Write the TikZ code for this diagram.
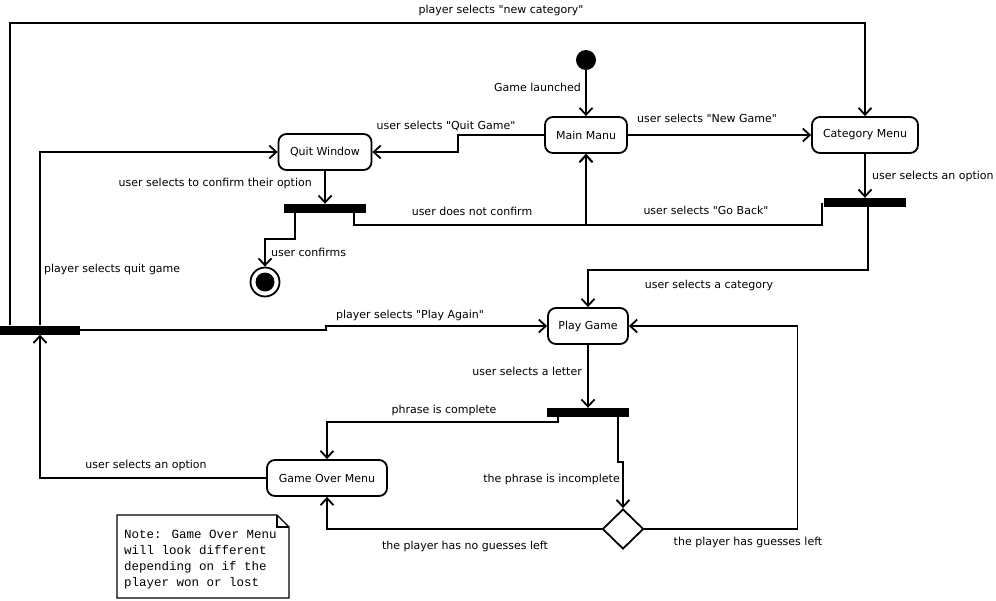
\documentclass[tikz,border=0pt]{standalone}
\usepackage{fontspec}
\newfontfamily\lblfam{DejaVu Sans}
\newfontfamily\notefam{Liberation Mono}
\usetikzlibrary{arrows.meta,shapes.geometric,calc}
\begin{document}
\begin{tikzpicture}[x=1pt,y=-1pt,
  every node/.style={font=\lblfam\fontsize{11}{13}\selectfont},
  lbl/.style={inner sep=0pt},
  state/.style={draw, rounded corners=8pt, line width=1.8pt, minimum height=36, inner sep=0pt, align=center},
  bar/.style={fill=black, minimum width=82, minimum height=9, inner sep=0pt},
  arr/.style={line width=1.8pt, -{Straight Barb[length=7pt,width=13pt]}},
  ln/.style={line width=1.8pt}]
\useasboundingbox (0,0) rectangle (996,600);
\fill[white] (0,0) rectangle (996,600);
% nodes
\node[circle, fill, minimum size=20, inner sep=0pt] (init) at (586,60) {};
\node[state, minimum width=82] (main) at (586,135) {Main Manu};
\node[state, minimum width=93] (quit) at (325,152) {Quit Window};
\node[state, minimum width=106] (cat) at (865,135) {Category Menu};
\node[state, minimum width=80] (play) at (588,326) {Play Game};
\node[state, minimum width=120] (gover) at (327,478) {Game Over Menu};
\node[bar] (qbar) at (325,208.5) {};
\node[bar] (cbar) at (865,202.5) {};
\node[bar] (pbar) at (588,412.5) {};
\node[bar, minimum width=80] (lbar) at (40,330) {};
\node[circle, draw, line width=1.8pt, minimum size=29, inner sep=0pt] (final) at (265,282) {};
\node[circle, fill, minimum size=19, inner sep=0pt] (finaldot) at (final.center) {};
\node[diamond, draw, line width=1.8pt, minimum width=41, minimum height=40, inner sep=0pt] (dia) at (623,529) {};
\coordinate (topy) at (0,23);
% edges
\draw[arr] (init) -- (main.north);
\draw[arr] (main.west) -- ++(-86,0) |- (quit.east);
\draw[arr] (main.east) -- (cat.west);
\draw[arr] (quit.south) -- (qbar.north);
\draw[arr] ([xshift=-30pt]qbar.south) -- ++(0,26) -| (final.north);
\draw[arr] ([xshift=29pt]qbar.south) -- ++(0,12) -| (main.south);
\draw[arr] ([xshift=-2pt]cbar.west) -- ++(0,22.5) -| (main.south);
\draw[arr] (cat.south) -- (cbar.north);
\draw[arr] ([xshift=3pt]cbar.south) -- ++(0,63) -| (play.north);
\draw[arr] ([xshift=-30pt]lbar.north) |- (topy -| cat.north) -- (cat.north);
\draw[arr] (lbar.north) |- (quit.west);
\draw[arr] (lbar.east) -- ++(246,0) |- (play.west);
\draw[arr] (play.south) -- (pbar.north);
\draw[arr] ([xshift=-30pt]pbar.south) -- ++(0,5) -| (gover.north);
\draw[arr] ([xshift=30pt]pbar.south) -- ++(0,45) -- ++(5,0) -- (dia.north);
\draw[arr] (dia.west) -| (gover.south);
\draw[arr] (dia.east) -- ++(153,0) |- (play.east);
\draw[arr] (gover.west) -| (lbar.south);
% labels
\node[lbl] (l1) at (501,10) {player selects "new category"};
\node[lbl, anchor=east] (l2) at (581,87) {Game launched};
\node[lbl] (l3) at (446,126) {user selects "Quit Game"};
\node[lbl] (l4) at (707,118) {user selects "New Game"};
\node[lbl, anchor=east] (l5) at (312,183) {user selects to confirm their option};
\node[lbl, anchor=west] (l6) at (872,176) {user selects an option};
\node[lbl] (l7) at (472,211) {user does not confirm};
\node[lbl] (l8) at (706,210) {user selects "Go Back"};
\node[lbl, anchor=west] (l9) at (271,252) {user confirms};
\node[lbl, anchor=west] (l10) at (44,269) {player selects quit game};
\node[lbl] (l11) at (709,285) {user selects a category};
\node[lbl] (l12) at (410,315) {player selects "Play Again"};
\node[lbl, anchor=east] (l13) at (582,371) {user selects a letter};
\node[lbl] (l14) at (444,410) {phrase is complete};
\node[lbl] (l15) at (146,465) {user selects an option};
\node[lbl, anchor=east] (l16) at (620,479) {the phrase is incomplete};
\node[lbl] (l17) at (465,546) {the player has no guesses left};
\node[lbl] (l18) at (748,542) {the player has guesses left};
% note
\draw[line width=1.4pt, fill=white] (117,515) -- (277,515) -- (289,527) -- (289,598) -- (117,598) -- cycle;
\draw[line width=1.2pt] (277,515) -- (277,527) -- (289,527);
\node[inner sep=0pt, anchor=north west, align=left, font=\notefam\fontsize{12.5}{16}\selectfont] (note) at (124,530)
  {Note: Game Over Menu\\will look different\\depending on if the\\player won or lost};
\end{tikzpicture}
\end{document}
